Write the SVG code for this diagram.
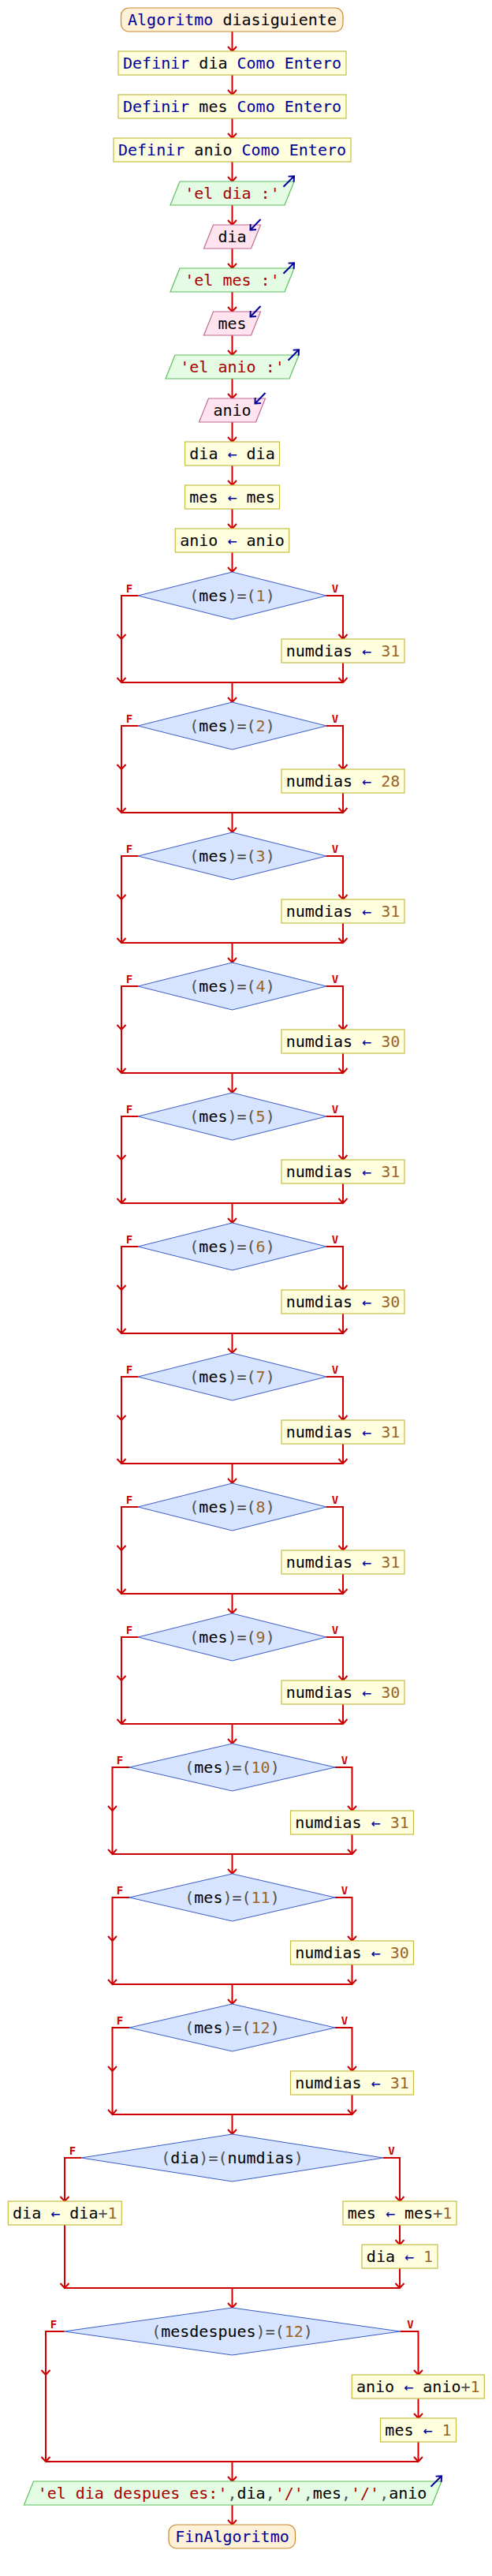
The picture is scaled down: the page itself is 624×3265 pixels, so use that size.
<svg xmlns="http://www.w3.org/2000/svg" width="624" height="3265" viewBox="0 0 624 3265">
<style>
.c{fill:none;stroke:#cc0000;stroke-width:2}
.cn{fill:none;stroke:#cc0000;stroke-width:2;marker-end:url(#ah)}
.io{fill:none;stroke:#000099;stroke-width:2;marker-end:url(#bh)}
.t{font-family:"DejaVu Sans Mono","Liberation Mono",monospace;font-size:20px;fill:#000;text-anchor:middle}
.kw{fill:#000099}
.str{fill:#aa0000}
.num{fill:#9a6428}
.op{fill:#505050}
.term{fill:#fff0d8;stroke:#cc8a30;stroke-width:1.2}
.box{fill:#ffffe0;stroke:#c4bc44;stroke-width:1.2}
.out{fill:#e4fce4;stroke:#5cc05c;stroke-width:1.2}
.in{fill:#ffe4f0;stroke:#c06890;stroke-width:1.2}
.dec{fill:#d6e4ff;stroke:#3a5cc8;stroke-width:1}
.lbl{font-family:"DejaVu Sans Mono","Liberation Mono",monospace;font-size:14px;font-weight:bold;fill:#cc0000;text-anchor:middle}
</style>
<defs>
<marker id="ah" markerWidth="14" markerHeight="14" refX="7" refY="7" orient="auto" markerUnits="userSpaceOnUse"><path d="M1,1.5 L7,7 L1,12.5" fill="none" stroke="#cc0000" stroke-width="2"/></marker>
<marker id="bh" markerWidth="14" markerHeight="14" refX="7" refY="7" orient="auto" markerUnits="userSpaceOnUse"><path d="M1.5,2 L7,7 L1.5,12" fill="none" stroke="#000099" stroke-width="2"/></marker>
</defs>

<g id="connectors">
<path class="cn" d="M294.5,40 V65"/>
<path class="cn" d="M294.5,95 V120"/>
<path class="cn" d="M294.5,150 V175"/>
<path class="cn" d="M294.5,205 V230"/>
<path class="cn" d="M294.5,260 V285"/>
<path class="cn" d="M294.5,315 V340"/>
<path class="cn" d="M294.5,370 V395"/>
<path class="cn" d="M294.5,425 V450"/>
<path class="cn" d="M294.5,480 V505"/>
<path class="cn" d="M294.5,535 V560"/>
<path class="cn" d="M294.5,590 V615"/>
<path class="cn" d="M294.5,645 V670"/>
<path class="cn" d="M294.5,700 V725"/>
<!-- k0 -->
<path class="cn" d="M414,755 H435 V810"/><path class="cn" d="M435,840 V865"/><path class="cn" d="M175,755 H154 V810"/><path class="cn" d="M154,810 V865"/><path class="c" d="M154,865 H435"/><path class="cn" d="M294.5,865 V890"/>
<!-- k1 -->
<path class="cn" d="M414,920 H435 V975"/><path class="cn" d="M435,1005 V1030"/><path class="cn" d="M175,920 H154 V975"/><path class="cn" d="M154,975 V1030"/><path class="c" d="M154,1030 H435"/><path class="cn" d="M294.5,1030 V1055"/>
<!-- k2 -->
<path class="cn" d="M414,1085 H435 V1140"/><path class="cn" d="M435,1170 V1195"/><path class="cn" d="M175,1085 H154 V1140"/><path class="cn" d="M154,1140 V1195"/><path class="c" d="M154,1195 H435"/><path class="cn" d="M294.5,1195 V1220"/>
<!-- k3 -->
<path class="cn" d="M414,1250 H435 V1305"/><path class="cn" d="M435,1335 V1360"/><path class="cn" d="M175,1250 H154 V1305"/><path class="cn" d="M154,1305 V1360"/><path class="c" d="M154,1360 H435"/><path class="cn" d="M294.5,1360 V1385"/>
<!-- k4 -->
<path class="cn" d="M414,1415 H435 V1470"/><path class="cn" d="M435,1500 V1525"/><path class="cn" d="M175,1415 H154 V1470"/><path class="cn" d="M154,1470 V1525"/><path class="c" d="M154,1525 H435"/><path class="cn" d="M294.5,1525 V1550"/>
<!-- k5 -->
<path class="cn" d="M414,1580 H435 V1635"/><path class="cn" d="M435,1665 V1690"/><path class="cn" d="M175,1580 H154 V1635"/><path class="cn" d="M154,1635 V1690"/><path class="c" d="M154,1690 H435"/><path class="cn" d="M294.5,1690 V1715"/>
<!-- k6 -->
<path class="cn" d="M414,1745 H435 V1800"/><path class="cn" d="M435,1830 V1855"/><path class="cn" d="M175,1745 H154 V1800"/><path class="cn" d="M154,1800 V1855"/><path class="c" d="M154,1855 H435"/><path class="cn" d="M294.5,1855 V1880"/>
<!-- k7 -->
<path class="cn" d="M414,1910 H435 V1965"/><path class="cn" d="M435,1995 V2020"/><path class="cn" d="M175,1910 H154 V1965"/><path class="cn" d="M154,1965 V2020"/><path class="c" d="M154,2020 H435"/><path class="cn" d="M294.5,2020 V2045"/>
<!-- k8 -->
<path class="cn" d="M414,2075 H435 V2130"/><path class="cn" d="M435,2160 V2185"/><path class="cn" d="M175,2075 H154 V2130"/><path class="cn" d="M154,2130 V2185"/><path class="c" d="M154,2185 H435"/><path class="cn" d="M294.5,2185 V2210"/>
<!-- k9 -->
<path class="cn" d="M425,2240 H446.5 V2295"/><path class="cn" d="M446.5,2325 V2350"/><path class="cn" d="M164,2240 H142.5 V2295"/><path class="cn" d="M142.5,2295 V2350"/><path class="c" d="M142.5,2350 H446.5"/><path class="cn" d="M294.5,2350 V2375"/>
<!-- k10 -->
<path class="cn" d="M425,2405 H446.5 V2460"/><path class="cn" d="M446.5,2490 V2515"/><path class="cn" d="M164,2405 H142.5 V2460"/><path class="cn" d="M142.5,2460 V2515"/><path class="c" d="M142.5,2515 H446.5"/><path class="cn" d="M294.5,2515 V2540"/>
<!-- k11 -->
<path class="cn" d="M425,2570 H446.5 V2625"/><path class="cn" d="M446.5,2655 V2680"/><path class="cn" d="M164,2570 H142.5 V2625"/><path class="cn" d="M142.5,2625 V2680"/><path class="c" d="M142.5,2680 H446.5"/><path class="cn" d="M294.5,2680 V2705"/>
<!-- dia=numdias -->
<path class="cn" d="M103,2735 H82 V2790"/><path class="cn" d="M82,2820 V2900"/>
<path class="cn" d="M486,2735 H507 V2790"/><path class="cn" d="M507,2820 V2845"/><path class="cn" d="M507,2875 V2900"/>
<path class="c" d="M82,2900 H507"/><path class="cn" d="M294.5,2900 V2925"/>
<!-- mesdespues -->
<path class="cn" d="M81.5,2955 H58 V3010"/><path class="cn" d="M58,3010 V3120"/>
<path class="cn" d="M507.5,2955 H530.5 V3010"/><path class="cn" d="M530.5,3040 V3065"/><path class="cn" d="M530.5,3095 V3120"/>
<path class="c" d="M58,3120 H530.5"/><path class="cn" d="M294.5,3120 V3145"/>
<path class="cn" d="M294.5,3175 V3200"/>
</g>

<g id="inicio"><rect class="term" x="153.5" y="10" width="281.5" height="30" rx="10"/><text class="t" x="294.5" y="32"><tspan class="kw">Algoritmo</tspan><tspan> diasiguiente</tspan></text></g>
<g id="def_dia"><rect class="box" x="150" y="65" width="289" height="30"/><text class="t" x="294.5" y="87"><tspan class="kw">Definir</tspan><tspan> dia </tspan><tspan class="kw">Como Entero</tspan></text></g>
<g id="def_mes"><rect class="box" x="150" y="120" width="289" height="30"/><text class="t" x="294.5" y="142"><tspan class="kw">Definir</tspan><tspan> mes </tspan><tspan class="kw">Como Entero</tspan></text></g>
<g id="def_anio"><rect class="box" x="144" y="175" width="301" height="30"/><text class="t" x="294.5" y="197"><tspan class="kw">Definir</tspan><tspan> anio </tspan><tspan class="kw">Como Entero</tspan></text></g>
<g id="esc_dia"><polygon class="out" points="228,230 373,230 361,260 216,260"/><text class="t" x="294.5" y="252"><tspan class="str">'el dia :'</tspan></text><path class="io" d="M359.5,236.7 L373,223.3"/></g>
<g id="leer_dia"><polygon class="in" points="270.5,285 330.5,285 318.5,315 258.5,315"/><text class="t" x="294.5" y="307">dia</text><path class="io" d="M330.5,278 L317.5,291.5"/></g>
<g id="esc_mes"><polygon class="out" points="228,340 373,340 361,370 216,370"/><text class="t" x="294.5" y="362"><tspan class="str">'el mes :'</tspan></text><path class="io" d="M359.5,346.7 L373,333.3"/></g>
<g id="leer_mes"><polygon class="in" points="270.5,395 330.5,395 318.5,425 258.5,425"/><text class="t" x="294.5" y="417">mes</text><path class="io" d="M330.5,388 L317.5,401.5"/></g>
<g id="esc_anio"><polygon class="out" points="222,450 379,450 367,480 210,480"/><text class="t" x="294.5" y="472"><tspan class="str">'el anio :'</tspan></text><path class="io" d="M365.5,456.7 L379,443.3"/></g>
<g id="leer_anio"><polygon class="in" points="264.5,505 336.5,505 324.5,535 252.5,535"/><text class="t" x="294.5" y="527">anio</text><path class="io" d="M336.5,498 L323.5,511.5"/></g>
<g id="asig_dia"><rect class="box" x="234.5" y="560" width="120" height="30"/><text class="t" x="294.5" y="582"><tspan>dia </tspan><tspan class="kw">←</tspan><tspan> dia</tspan></text></g>
<g id="asig_mes"><rect class="box" x="234.5" y="615" width="120" height="30"/><text class="t" x="294.5" y="637"><tspan>mes </tspan><tspan class="kw">←</tspan><tspan> mes</tspan></text></g>
<g id="asig_anio"><rect class="box" x="222.3" y="670" width="144.4" height="30"/><text class="t" x="294.5" y="692"><tspan>anio </tspan><tspan class="kw">←</tspan><tspan> anio</tspan></text></g>

<g id="si1"><polygon class="dec" points="294.5,725 414,755 294.5,785 175,755"/><text class="t" x="294.5" y="762"><tspan class="op">(</tspan><tspan>mes</tspan><tspan class="op">)=(</tspan><tspan class="num">1</tspan><tspan class="op">)</tspan></text><text class="lbl" x="164" y="751">F</text><text class="lbl" x="425" y="751">V</text></g>
<g id="nd1"><rect class="box" x="357" y="810" width="156" height="30"/><text class="t" x="435" y="832"><tspan>numdias </tspan><tspan class="kw">←</tspan><tspan class="num"> 31</tspan></text></g>
<g id="si2"><polygon class="dec" points="294.5,890 414,920 294.5,950 175,920"/><text class="t" x="294.5" y="927"><tspan class="op">(</tspan><tspan>mes</tspan><tspan class="op">)=(</tspan><tspan class="num">2</tspan><tspan class="op">)</tspan></text><text class="lbl" x="164" y="916">F</text><text class="lbl" x="425" y="916">V</text></g>
<g id="nd2"><rect class="box" x="357" y="975" width="156" height="30"/><text class="t" x="435" y="997"><tspan>numdias </tspan><tspan class="kw">←</tspan><tspan class="num"> 28</tspan></text></g>
<g id="si3"><polygon class="dec" points="294.5,1055 414,1085 294.5,1115 175,1085"/><text class="t" x="294.5" y="1092"><tspan class="op">(</tspan><tspan>mes</tspan><tspan class="op">)=(</tspan><tspan class="num">3</tspan><tspan class="op">)</tspan></text><text class="lbl" x="164" y="1081">F</text><text class="lbl" x="425" y="1081">V</text></g>
<g id="nd3"><rect class="box" x="357" y="1140" width="156" height="30"/><text class="t" x="435" y="1162"><tspan>numdias </tspan><tspan class="kw">←</tspan><tspan class="num"> 31</tspan></text></g>
<g id="si4"><polygon class="dec" points="294.5,1220 414,1250 294.5,1280 175,1250"/><text class="t" x="294.5" y="1257"><tspan class="op">(</tspan><tspan>mes</tspan><tspan class="op">)=(</tspan><tspan class="num">4</tspan><tspan class="op">)</tspan></text><text class="lbl" x="164" y="1246">F</text><text class="lbl" x="425" y="1246">V</text></g>
<g id="nd4"><rect class="box" x="357" y="1305" width="156" height="30"/><text class="t" x="435" y="1327"><tspan>numdias </tspan><tspan class="kw">←</tspan><tspan class="num"> 30</tspan></text></g>
<g id="si5"><polygon class="dec" points="294.5,1385 414,1415 294.5,1445 175,1415"/><text class="t" x="294.5" y="1422"><tspan class="op">(</tspan><tspan>mes</tspan><tspan class="op">)=(</tspan><tspan class="num">5</tspan><tspan class="op">)</tspan></text><text class="lbl" x="164" y="1411">F</text><text class="lbl" x="425" y="1411">V</text></g>
<g id="nd5"><rect class="box" x="357" y="1470" width="156" height="30"/><text class="t" x="435" y="1492"><tspan>numdias </tspan><tspan class="kw">←</tspan><tspan class="num"> 31</tspan></text></g>
<g id="si6"><polygon class="dec" points="294.5,1550 414,1580 294.5,1610 175,1580"/><text class="t" x="294.5" y="1587"><tspan class="op">(</tspan><tspan>mes</tspan><tspan class="op">)=(</tspan><tspan class="num">6</tspan><tspan class="op">)</tspan></text><text class="lbl" x="164" y="1576">F</text><text class="lbl" x="425" y="1576">V</text></g>
<g id="nd6"><rect class="box" x="357" y="1635" width="156" height="30"/><text class="t" x="435" y="1657"><tspan>numdias </tspan><tspan class="kw">←</tspan><tspan class="num"> 30</tspan></text></g>
<g id="si7"><polygon class="dec" points="294.5,1715 414,1745 294.5,1775 175,1745"/><text class="t" x="294.5" y="1752"><tspan class="op">(</tspan><tspan>mes</tspan><tspan class="op">)=(</tspan><tspan class="num">7</tspan><tspan class="op">)</tspan></text><text class="lbl" x="164" y="1741">F</text><text class="lbl" x="425" y="1741">V</text></g>
<g id="nd7"><rect class="box" x="357" y="1800" width="156" height="30"/><text class="t" x="435" y="1822"><tspan>numdias </tspan><tspan class="kw">←</tspan><tspan class="num"> 31</tspan></text></g>
<g id="si8"><polygon class="dec" points="294.5,1880 414,1910 294.5,1940 175,1910"/><text class="t" x="294.5" y="1917"><tspan class="op">(</tspan><tspan>mes</tspan><tspan class="op">)=(</tspan><tspan class="num">8</tspan><tspan class="op">)</tspan></text><text class="lbl" x="164" y="1906">F</text><text class="lbl" x="425" y="1906">V</text></g>
<g id="nd8"><rect class="box" x="357" y="1965" width="156" height="30"/><text class="t" x="435" y="1987"><tspan>numdias </tspan><tspan class="kw">←</tspan><tspan class="num"> 31</tspan></text></g>
<g id="si9"><polygon class="dec" points="294.5,2045 414,2075 294.5,2105 175,2075"/><text class="t" x="294.5" y="2082"><tspan class="op">(</tspan><tspan>mes</tspan><tspan class="op">)=(</tspan><tspan class="num">9</tspan><tspan class="op">)</tspan></text><text class="lbl" x="164" y="2071">F</text><text class="lbl" x="425" y="2071">V</text></g>
<g id="nd9"><rect class="box" x="357" y="2130" width="156" height="30"/><text class="t" x="435" y="2152"><tspan>numdias </tspan><tspan class="kw">←</tspan><tspan class="num"> 30</tspan></text></g>
<g id="si10"><polygon class="dec" points="294.5,2210 425,2240 294.5,2270 164,2240"/><text class="t" x="294.5" y="2247"><tspan class="op">(</tspan><tspan>mes</tspan><tspan class="op">)=(</tspan><tspan class="num">10</tspan><tspan class="op">)</tspan></text><text class="lbl" x="152" y="2236">F</text><text class="lbl" x="437" y="2236">V</text></g>
<g id="nd10"><rect class="box" x="368.5" y="2295" width="156" height="30"/><text class="t" x="446.5" y="2317"><tspan>numdias </tspan><tspan class="kw">←</tspan><tspan class="num"> 31</tspan></text></g>
<g id="si11"><polygon class="dec" points="294.5,2375 425,2405 294.5,2435 164,2405"/><text class="t" x="294.5" y="2412"><tspan class="op">(</tspan><tspan>mes</tspan><tspan class="op">)=(</tspan><tspan class="num">11</tspan><tspan class="op">)</tspan></text><text class="lbl" x="152" y="2401">F</text><text class="lbl" x="437" y="2401">V</text></g>
<g id="nd11"><rect class="box" x="368.5" y="2460" width="156" height="30"/><text class="t" x="446.5" y="2482"><tspan>numdias </tspan><tspan class="kw">←</tspan><tspan class="num"> 30</tspan></text></g>
<g id="si12"><polygon class="dec" points="294.5,2540 425,2570 294.5,2600 164,2570"/><text class="t" x="294.5" y="2577"><tspan class="op">(</tspan><tspan>mes</tspan><tspan class="op">)=(</tspan><tspan class="num">12</tspan><tspan class="op">)</tspan></text><text class="lbl" x="152" y="2566">F</text><text class="lbl" x="437" y="2566">V</text></g>
<g id="nd12"><rect class="box" x="368.5" y="2625" width="156" height="30"/><text class="t" x="446.5" y="2647"><tspan>numdias </tspan><tspan class="kw">←</tspan><tspan class="num"> 31</tspan></text></g>

<g id="si_fin_mes"><polygon class="dec" points="294.5,2705 486,2735 294.5,2765 103,2735"/><text class="t" x="294.5" y="2742"><tspan class="op">(</tspan><tspan>dia</tspan><tspan class="op">)=(</tspan><tspan>numdias</tspan><tspan class="op">)</tspan></text><text class="lbl" x="92" y="2731">F</text><text class="lbl" x="496.5" y="2731">V</text></g>
<g id="inc_dia"><rect class="box" x="10.3" y="2790" width="144" height="30"/><text class="t" x="82.3" y="2812"><tspan>dia </tspan><tspan class="kw">←</tspan><tspan> dia</tspan><tspan class="op">+</tspan><tspan class="num">1</tspan></text></g>
<g id="inc_mes"><rect class="box" x="435" y="2790" width="144" height="30"/><text class="t" x="507" y="2812"><tspan>mes </tspan><tspan class="kw">←</tspan><tspan> mes</tspan><tspan class="op">+</tspan><tspan class="num">1</tspan></text></g>
<g id="reset_dia"><rect class="box" x="459" y="2845" width="96" height="30"/><text class="t" x="507" y="2867"><tspan>dia </tspan><tspan class="kw">←</tspan><tspan class="num"> 1</tspan></text></g>

<g id="si_fin_anio"><polygon class="dec" points="294.5,2925 507.5,2955 294.5,2985 81.5,2955"/><text class="t" x="294.5" y="2962"><tspan class="op">(</tspan><tspan>mesdespues</tspan><tspan class="op">)=(</tspan><tspan class="num">12</tspan><tspan class="op">)</tspan></text><text class="lbl" x="68" y="2951">F</text><text class="lbl" x="520.5" y="2951">V</text></g>
<g id="inc_anio"><rect class="box" x="446.3" y="3010" width="168" height="30"/><text class="t" x="530.3" y="3032"><tspan>anio </tspan><tspan class="kw">←</tspan><tspan> anio</tspan><tspan class="op">+</tspan><tspan class="num">1</tspan></text></g>
<g id="reset_mes"><rect class="box" x="482.5" y="3065" width="96" height="30"/><text class="t" x="530.5" y="3087"><tspan>mes </tspan><tspan class="kw">←</tspan><tspan class="num"> 1</tspan></text></g>

<g id="esc_result"><polygon class="out" points="42.5,3145 560,3145 548,3175 30.5,3175"/><text class="t" x="294.5" y="3167"><tspan class="str">'el dia despues es:'</tspan><tspan class="op">,</tspan><tspan>dia</tspan><tspan class="op">,</tspan><tspan class="str">'/'</tspan><tspan class="op">,</tspan><tspan>mes</tspan><tspan class="op">,</tspan><tspan class="str">'/'</tspan><tspan class="op">,</tspan><tspan>anio</tspan></text><path class="io" d="M546.5,3151.7 L560,3138.3"/></g>
<g id="fin"><rect class="term" x="214" y="3200" width="160.5" height="30" rx="10"/><text class="t" x="294.5" y="3222"><tspan class="kw">FinAlgoritmo</tspan></text></g>
</svg>
